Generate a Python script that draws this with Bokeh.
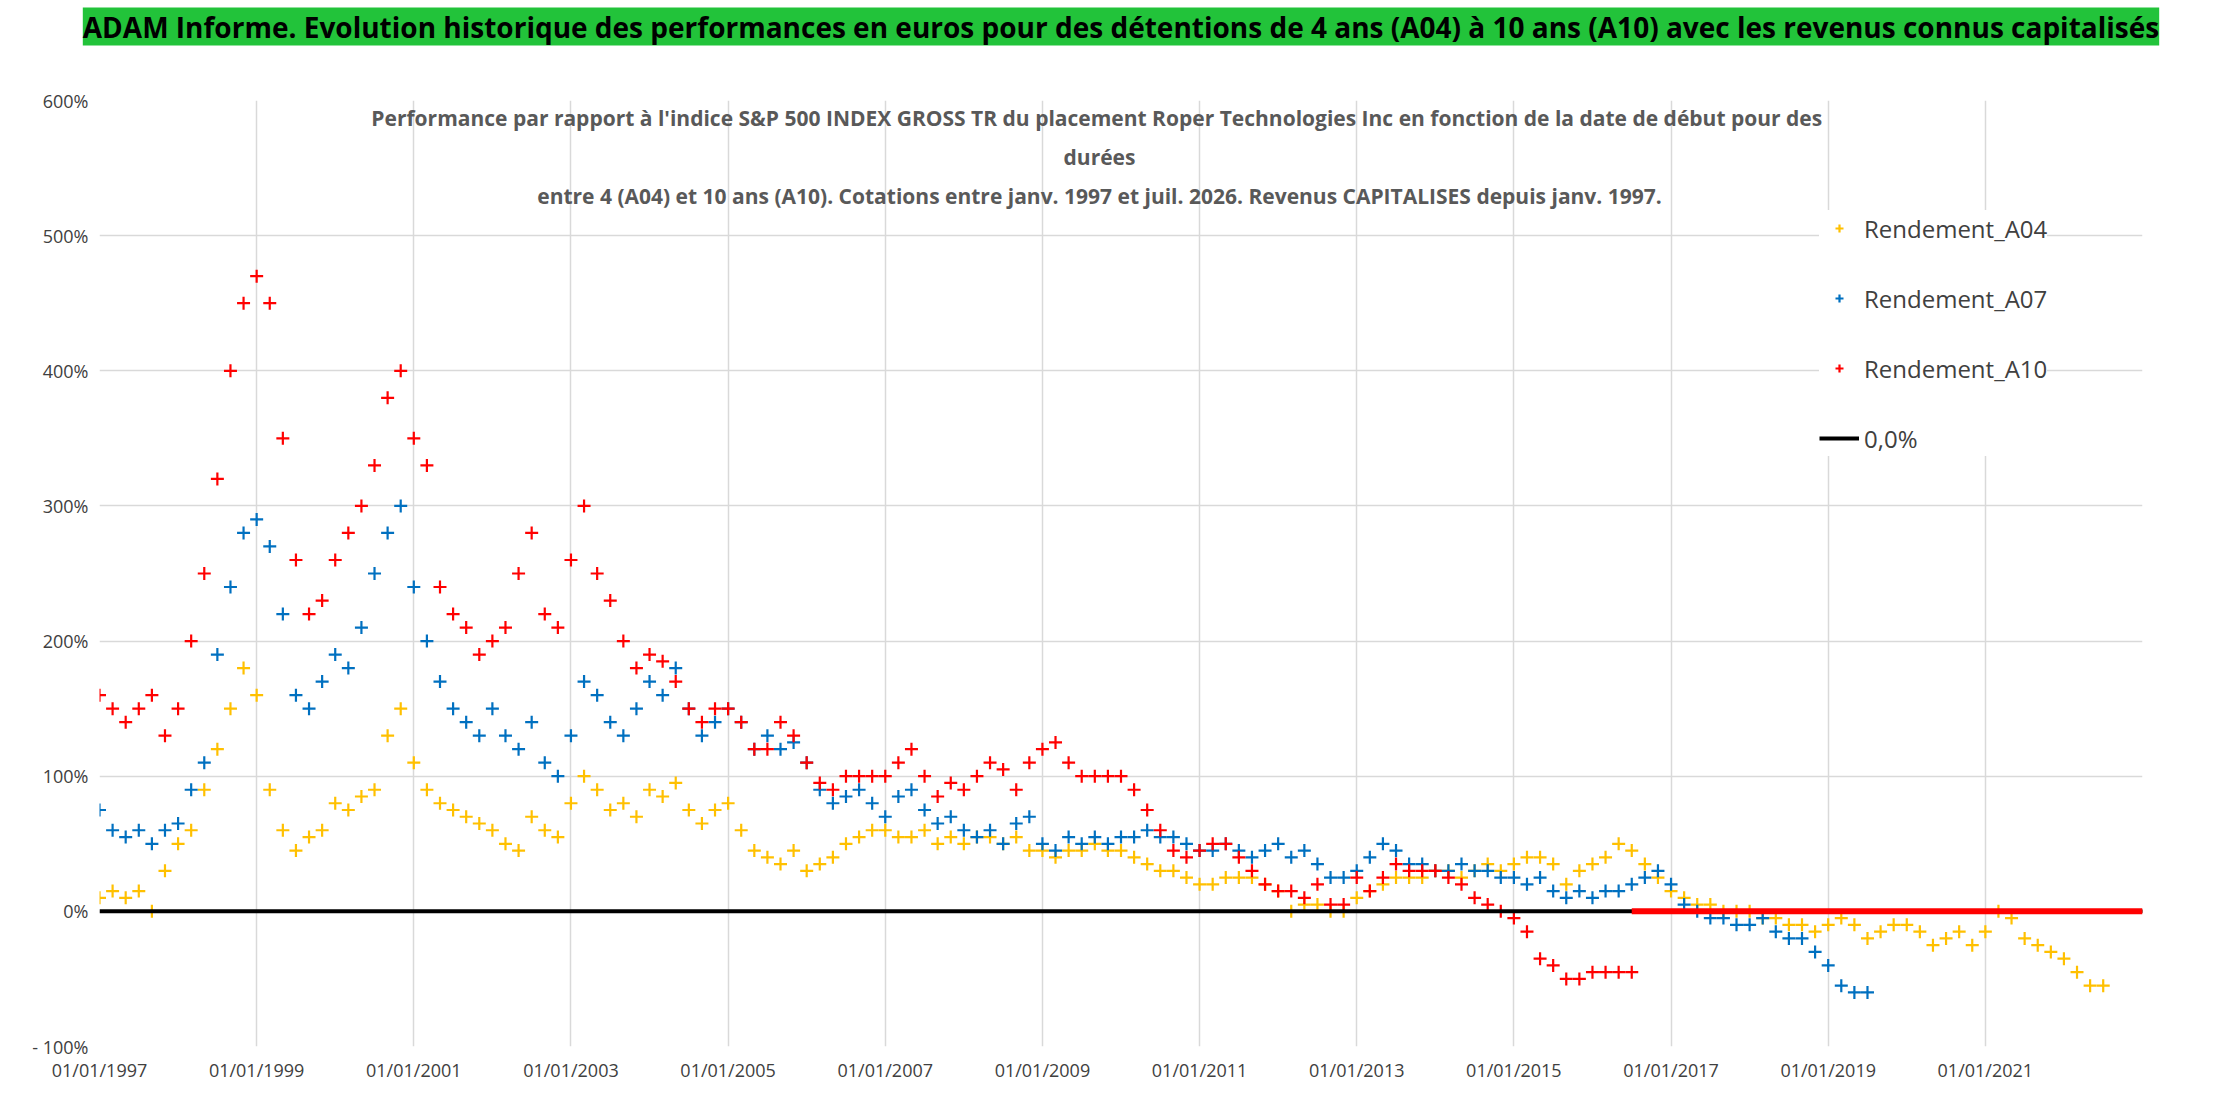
from bokeh.plotting import figure
from bokeh.models import Label, FixedTicker, Legend, LegendItem, Title
from bokeh.embed import file_html
from bokeh.resources import INLINE

STEP = 1/6
START = 1997.0
END = 2023.0

a04 = [10,15,10,15,0,30, 50,60,90,120,150,180, 160,90,60,45,55,60, 80,75,85,90,130,150,
       110,90,80,75,70,65, 60,50,45,70,60,55, 80,100,90,75,80,70, 90,85,95,75,65,75,
       80,60,45,40,35,45, 30,35,40,50,55,60, 60,55,55,60,50,55, 50,55,55,50,55,45,
       45,40,45,45,50,45, 45,40,35,30,30,25, 20,20,25,25,25,20, 15,0,5,5,0,0,
       10,15,20,25,25,25, 30,30,25,30,35,30, 35,40,40,35,20,30, 35,40,50,45,35,25,
       15,10,5,5,0,0, 0,-5,-5,-10,-10,-15, -10,-5,-10,-20,-15,-10, -10,-15,-25,-20,-15,-25,
       -15,0,-5,-20,-25,-30, -35,-45,-55,-55]
a07 = [75,60,55,60,50,60, 65,90,110,190,240,280, 290,270,220,160,150,170, 190,180,210,250,280,300,
       240,200,170,150,140,130, 150,130,120,140,110,100, 130,170,160,140,130,150, 170,160,180,150,130,140,
       150,140,120,130,120,125, 110,90,80,85,90,80, 70,85,90,75,65,70, 60,55,60,50,65,70,
       50,45,55,50,55,50, 55,55,60,55,55,50, 45,45,50,45,40,45, 50,40,45,35,25,25,
       30,40,50,45,35,35, 30,30,35,30,30,25, 25,20,25,15,10,15, 10,15,15,20,25,30,
       20,5,0,-5,-5,-10, -10,-5,-15,-20,-20,-30, -40,-55,-60,-60]
a10 = [160,150,140,150,160,130, 150,200,250,320,400,450, 470,450,350,260,220,230, 260,280,300,330,380,400,
       350,330,240,220,210,190, 200,210,250,280,220,210, 260,300,250,230,200,180, 190,185,170,150,140,150,
       150,140,120,120,140,130, 110,95,90,100,100,100, 100,110,120,100,85,95, 90,100,110,105,90,110,
       120,125,110,100,100,100, 100,90,75,60,45,40, 45,50,50,40,30,20, 15,15,10,20,5,5,
       25,15,25,35,30,30, 30,25,20,10,5,0, -5,-15,-35,-40,-50,-50, -45,-45,-45,-45]

series = [("Rendement_A04", a04, "#FFC000"), ("Rendement_A07", a07, "#0070C0"), ("Rendement_A10", a10, "#FF0000")]
tick_years = list(range(1997, 2022, 2))
y_ticks = [-100, 0, 100, 200, 300, 400, 500, 600]

p = figure(width=2200, height=1086, output_backend="svg", toolbar_location=None,
           x_range=(START, END), y_range=(-100, 600), min_border_left=99, min_border_right=58,
           min_border_top=4, min_border_bottom=40)
p.add_layout(Title(text=" ", text_font_size="34px"), "above")
p.add_layout(Title(text="ADAM Informe. Evolution historique des performances en euros pour des détentions de 4 ans (A04) à 10 ans (A10) avec les revenus connus capitalisés",
                   text_font="Open Sans", text_font_size="28px", text_font_style="bold", align="center",
                   background_fill_color="#22C33A", text_color="black"), "above")
p.outline_line_color = None
p.xaxis.ticker = FixedTicker(ticks=tick_years)
p.xaxis.major_label_overrides = {y: f"01/01/{y}" for y in tick_years}
p.yaxis.ticker = FixedTicker(ticks=y_ticks)
p.yaxis.major_label_overrides = {v: ("- 100%" if v < 0 else f"{v}%") for v in y_ticks}
for ax in (p.xaxis, p.yaxis):
    ax.major_label_text_font = "Open Sans"
    ax.major_label_text_font_size = "18px"
    ax.major_label_text_color = "#404040"
    ax.axis_line_color = None
    ax.major_tick_line_color = None
    ax.minor_tick_line_color = None
p.grid.grid_line_color = "#D9D9D9"
p.grid.grid_line_width = 1.5

items = []
for name, vals, col in series:
    xs = [START + i * STEP for i in range(len(vals))]
    r = p.scatter(xs, vals, marker="cross", size=13, line_width=2.2, color=col)
    items.append(LegendItem(label=name, renderers=[r]))
    p.segment(xs[-1] + STEP, 0, END, 0, line_color=col, line_width=3)
zr = p.line([START, END], [0, 0], line_color="black", line_width=4)
p.segment(START + (len(a10) - 1) * STEP, 0, END, 0, line_color="#FF0000", line_width=6)
items.append(LegendItem(label="0,0%", renderers=[zr]))

leg = Legend(items=items, location=(1720, 590), label_text_font="Open Sans", label_text_font_size="24px",
             label_text_color="#404040", spacing=34, label_height=36, background_fill_alpha=1,
             border_line_color=None, glyph_width=40, padding=20)
p.add_layout(leg, "center")

lines = ["Performance par rapport à l'indice S&P 500 INDEX GROSS TR  du placement Roper Technologies Inc en fonction de la date de début pour des",
         "durées",
         "entre 4 (A04) et 10 ans (A10). Cotations entre janv. 1997 et juil. 2026. Revenus CAPITALISES depuis janv. 1997."]
for i, t in enumerate(lines):
    p.add_layout(Label(x=1000, y=915 - i * 39, x_units="screen", y_units="screen", text=t,
                       text_align="center", text_font="Open Sans", text_font_size="21px",
                       text_font_style="bold", text_color="#595959"))

open("out.html", "w").write(file_html(p, INLINE))
